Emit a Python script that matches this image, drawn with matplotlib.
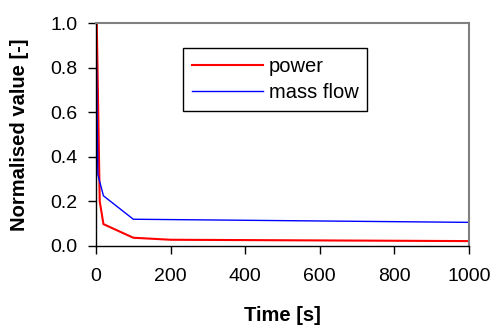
import matplotlib
matplotlib.use('Agg')
from matplotlib import pyplot as plt

plt.rcParams['font.family'] = ['Liberation Sans', 'DejaVu Sans']

# Data
power_t = [0, 2, 10, 20, 100, 200, 1000]
power_v = [1.0, 1.0, 0.2, 0.098, 0.037, 0.028, 0.022]
flow_t = [0, 5, 20, 100, 1000]
flow_v = [1.0, 0.32, 0.225, 0.12, 0.106]

x_ticks = [0, 200, 400, 600, 800, 1000]
y_ticks = [0.0, 0.2, 0.4, 0.6, 0.8, 1.0]

fig = plt.figure(figsize=(4.93, 3.27), dpi=100)
ax = fig.add_axes([96/493, 1 - 246/327, 373/493, 223/327])

ax.plot(power_t, power_v, color='#ff0000', lw=1.5, label='power')
ax.plot(flow_t, flow_v, color='#0000ff', lw=1.0, label='mass flow')

ax.set_xlim(0, 1000)
ax.set_ylim(0, 1.0)
ax.set_xticks(x_ticks)
ax.set_yticks(y_ticks)
ax.set_yticklabels(['%.1f' % v for v in y_ticks])
ax.tick_params(direction='out', length=5.5, width=1, labelsize=14)
ax.tick_params(axis='x', pad=10)
ax.tick_params(axis='y', pad=8)

for s in ['top', 'right']:
    ax.spines[s].set_color('#808080')
    ax.spines[s].set_linewidth(1.5)
for s in ['left', 'bottom']:
    ax.spines[s].set_color('black')
    ax.spines[s].set_linewidth(1)

ax.set_xlabel('Time [s]', fontsize=14.5, fontweight='bold')
ax.set_ylabel('Normalised value [-]', fontsize=14.5, fontweight='bold')
ax.xaxis.set_label_coords(282/493, 1 - 306/327, transform=fig.transFigure)
ax.yaxis.set_label_coords(29/493, 1 - 135/327, transform=fig.transFigure)

leg = ax.legend(loc='upper left', bbox_to_anchor=(183/493, 1 - 48/327),
                bbox_transform=fig.transFigure, borderaxespad=0, fontsize=14.5,
                handlelength=3.5, handletextpad=0.3, borderpad=0.45,
                labelspacing=0.35, fancybox=False, framealpha=1)
leg.get_frame().set_edgecolor('black')
leg.get_frame().set_linewidth(1)

fig.savefig('out.png', dpi=100)
